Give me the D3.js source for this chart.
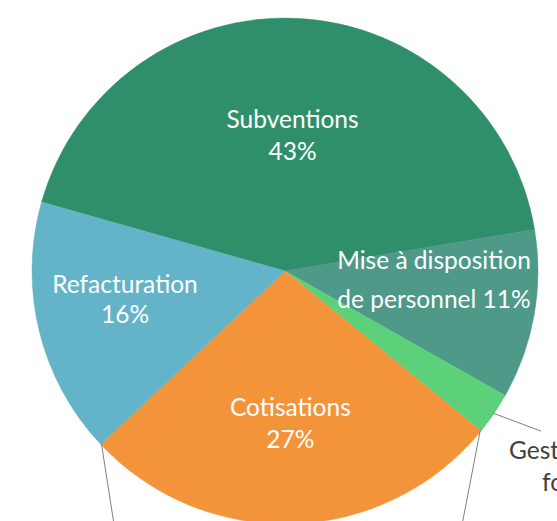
<!DOCTYPE html>
<html>
<head>
<meta charset="utf-8">
<script src="https://cdn.jsdelivr.net/npm/d3@7"></script>
<style>
  body { margin: 0; background: #fff; }
  svg { display: block; font-family: Lato, "Open Sans", sans-serif; }
</style>
</head>
<body>
<script>
// data
const categories = ["Subventions", "Mise à disposition de personnel", "Gestion des fonds de formation", "Cotisations", "Refacturation"];
const values = [43.0, 10.8, 2.7, 27.1, 16.4];
const labelLines = [["Subventions"], ["Mise à disposition", "de personnel"], ["Gestion des fonds de", "formation"], ["Cotisations"], ["Refacturation"]];
const colors = ["#308f6b", "#4e9988", "#5dd17a", "#f3943b", "#63b4c9"];

var width = 557, height = 521;
var cx = 285, cy = 271, radius = 253;
var fontSize = 24.5;

// where each label goes: inside at k*radius along mid angle, or outside with a leader
var placement = [
  {k: 0.536, dy: 0, lh: 32},
  {k: 0.598, dy: -17, lh: 39},
  {outside: true, lead: [48, 18], lines: [[-32, 28], [1, 60]]},
  {k: 0.603, dy: 0, lh: 32},
  {k: 0.651, dy: -10, lh: 30}
];

var svg = d3.select("body").append("svg")
  .attr("width", width)
  .attr("height", height);

var g = svg.append("g").attr("transform", "translate(" + cx + "," + cy + ")");

var total = d3.sum(values);
var pie = d3.pie()
  .sort(null)
  .startAngle(-74.2 * Math.PI / 180)
  .endAngle((360 - 74.2) * Math.PI / 180);

var arcs = pie(values);
var arc = d3.arc().innerRadius(0).outerRadius(radius);

g.selectAll("path.slice")
  .data(arcs)
  .enter().append("path")
  .attr("class", "slice")
  .attr("fill", (d, i) => colors[i])
  .attr("stroke", (d, i) => colors[i])
  .attr("stroke-width", 0.5)
  .attr("d", arc);

function polar(a, r) {
  return [r * Math.sin(a), -r * Math.cos(a)];
}

function pct(v) {
  return Math.round(v / total * 100) + "%";
}

// leader lines at the edges of Cotisations (labels sit below the picture)
var cot = arcs[3];
[[cot.startAngle, [-17, 88]], [cot.endAngle, [12, 77]]].forEach(function(e) {
  var p = polar(e[0], radius - 1);
  g.append("line")
    .attr("x1", p[0]).attr("y1", p[1])
    .attr("x2", p[0] + e[1][0] * 1.5).attr("y2", p[1] + e[1][1] * 1.5)
    .attr("stroke", "#7f7f7f")
    .attr("stroke-width", 1);
});

arcs.forEach(function(d, i) {
  var pl = placement[i];
  var mid = (d.startAngle + d.endAngle) / 2;
  var lines = labelLines[i].slice();
  if (lines.length === 1) lines.push(pct(values[i]));
  else lines[lines.length - 1] += " " + pct(values[i]);

  if (pl.outside) {
    var s = polar(mid, radius - 1);
    var e = [s[0] + pl.lead[0], s[1] + pl.lead[1]];
    g.append("line")
      .attr("x1", s[0]).attr("y1", s[1])
      .attr("x2", e[0]).attr("y2", e[1])
      .attr("stroke", "#7f7f7f")
      .attr("stroke-width", 1);
    var t = g.append("text")
      .attr("fill", "#404040")
      .attr("font-size", fontSize);
    lines.forEach(function(line, j) {
      t.append("tspan")
        .attr("x", e[0] + pl.lines[j][0])
        .attr("y", e[1] + pl.lines[j][1])
        .text(line);
    });
    return;
  }

  var c = polar(mid, radius * pl.k);
  var n = lines.length;
  var t = g.append("text")
    .attr("fill", "#fff")
    .attr("font-size", fontSize)
    .attr("text-anchor", "middle");
  lines.forEach(function(line, j) {
    t.append("tspan")
      .attr("x", c[0])
      .attr("y", c[1] + pl.dy + (j - (n - 1) / 2) * pl.lh + fontSize * 0.34)
      .text(line);
  });
});
</script>
</body>
</html>
